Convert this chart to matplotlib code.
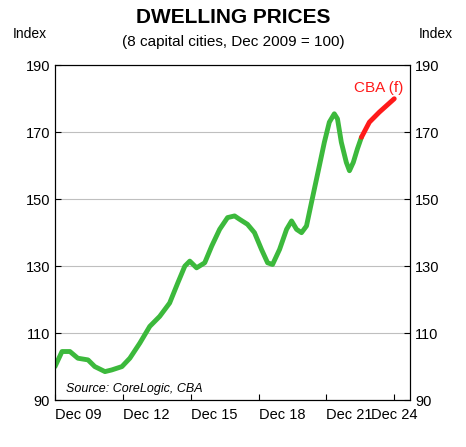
import matplotlib
matplotlib.use("Agg")
import matplotlib.pyplot as plt
import numpy as np

plt.rcParams['font.family'] = ['Liberation Sans', 'DejaVu Sans']

# years since Dec 2009
hist_t = [0,0.31,0.66,1.01,1.46,1.76,2.21,2.51,2.96,3.31,3.75,4.19,4.63,5.07,5.43,5.74,5.96,6.26,6.62,6.93,7.28,7.63,7.94,8.16,8.51,8.82,9.13,9.40,9.62,9.93,10.24,10.46,10.68,10.90,11.12,11.34,11.69,11.91,12.13,12.35,12.49,12.66,12.88,13.02,13.19,13.37,13.55]
hist_v = [100,104.5,104.5,102.5,102,100,98.5,99,100,102.5,107,112,115,119,125,130,131.5,129.5,131,136,141,144.5,145,144,142.5,140,135,131,130.5,135,141,143.5,141,140,142,149,160,167,173,175.5,174,167,161,158.5,161,165,168.5]
fc_t = [13.55,13.9,14.34,15.0]
fc_v = [168.5,173,176,180]
tick_labels = ['Dec 09','Dec 12','Dec 15','Dec 18','Dec 21','Dec 24']

base = 2009.92
fig = plt.figure(figsize=(4.66,4.47), dpi=100)
ax = fig.add_axes([0.118,0.105,0.762,0.749])
ax.plot(np.array(hist_t)+base, hist_v, color='#3cb93c', lw=3.5, solid_capstyle='round', solid_joinstyle='round')
ax.plot(np.array(fc_t)+base, fc_v, color='#ff1a1a', lw=3.5, solid_capstyle='round', solid_joinstyle='round')
ax.set_xlim(base, base+15.7)
ax.set_ylim(90,190)
yt = [90,110,130,150,170,190]
ax.set_yticks(yt)
ax.grid(axis='y', color='#bfbfbf', lw=0.8)
ax.set_axisbelow(True)
xt = [base+3*i for i in range(6)]
ax.set_xticks(xt)
ax.set_xticklabels(tick_labels)
for i, lab in enumerate(ax.get_xticklabels()):
    lab.set_ha('left' if i < 5 else 'center')
ax.tick_params(axis='both', direction='in', labelsize=10.5, length=4)
ax.tick_params(axis='x', pad=6)
ax2 = ax.twinx()
ax2.set_ylim(90,190)
ax2.set_yticks(yt)
ax2.tick_params(axis='y', direction='in', labelsize=10.5, length=4)
ax.text(base+13.2, 182, 'CBA (f)', color='#ff1a1a', fontsize=11)
ax.text(base+0.5, 92.5, 'Source: CoreLogic, CBA', fontsize=9, style='italic')
fig.text(0.5, 0.948, 'DWELLING PRICES', ha='center', fontsize=15, weight='bold')
fig.text(0.5, 0.898, '(8 capital cities, Dec 2009 = 100)', ha='center', fontsize=11)
fig.text(0.065, 0.915, 'Index', ha='center', fontsize=10)
fig.text(0.935, 0.915, 'Index', ha='center', fontsize=10)
fig.savefig('out.png', dpi=100)
